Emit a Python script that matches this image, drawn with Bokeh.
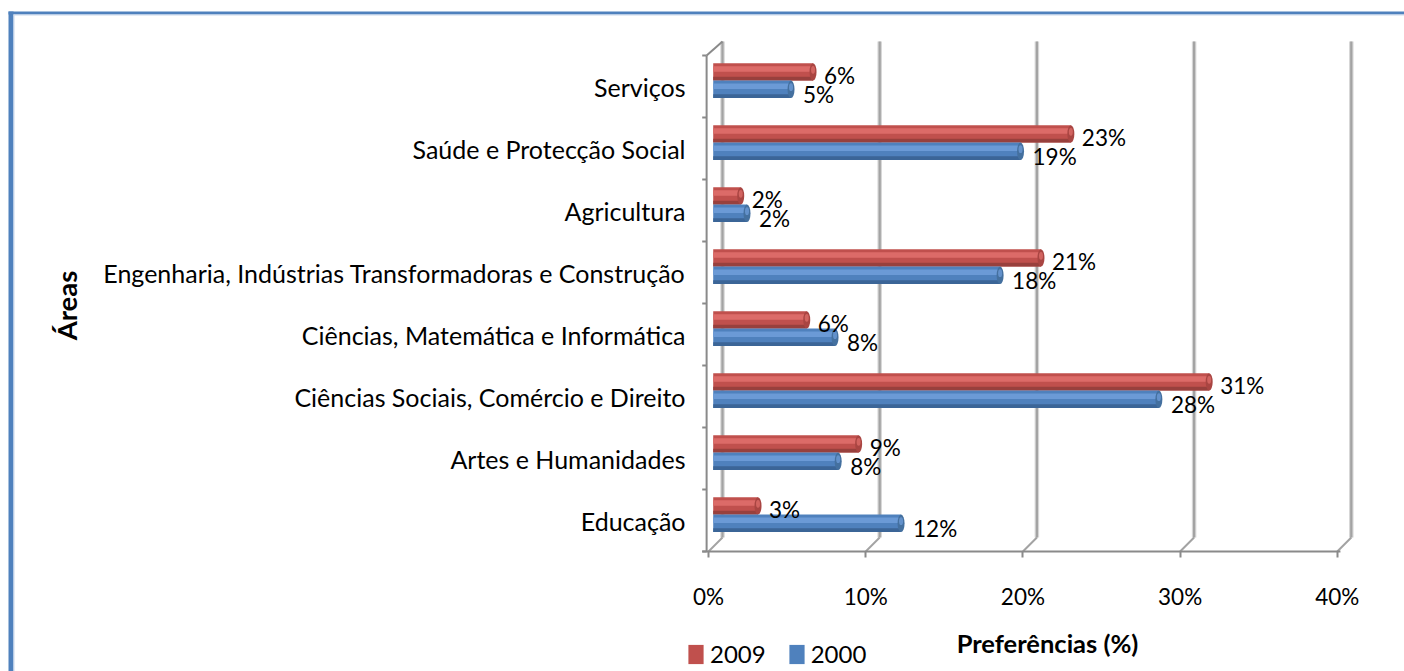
import math
from bokeh.plotting import figure
from bokeh.models import (Range1d, FixedTicker, Label, Legend, LegendItem,
                          BoxAnnotation, ColumnDataSource, LinearAxis)
from bokeh.core.properties import value
from bokeh.embed import file_html
from bokeh.resources import INLINE

# ---------------- data ----------------
categories = ["Educação", "Artes e Humanidades", "Ciências Sociais, Comércio e Direito",
              "Ciências, Matemática e Informática",
              "Engenharia, Indústrias Transformadoras e Construção",
              "Agricultura", "Saúde e Protecção Social", "Serviços"]
values_2009 = [2.7, 9.1, 31.4, 5.8, 20.7, 1.6, 22.6, 6.2]
values_2000 = [11.8, 7.8, 28.2, 7.6, 18.1, 2.0, 19.4, 4.8]
series_names = ["2009", "2000"]
x_ticks = [0, 10, 20, 30, 40]
x_tick_labels = ["0%", "10%", "20%", "30%", "40%"]
x_title = "Preferências (%)"
y_title = "Áreas"

# ---------------- style ----------------
FONT = "Lato"
RED, RED_HI, RED_LO, RED_CAP = "#C0504D", "#DC6B68", "#98403D", "#A94542"
BLUE, BLUE_HI, BLUE_LO, BLUE_CAP = "#4F81BD", "#6B9AD6", "#3B6597", "#44709F"
GRID = "#A3A3A3"
AXIS = "#8A8A8A"
DX, DY = 0.89, 0.226          # 3D depth offset (data units)
BAR_H = 0.28
RED_OFF, BLUE_OFF = 0.235, -0.045
BAR_START, BAR_END_OFF = 0.3, 0.45

W, H = 1404, 671
PX_X, PX_Y = 15.72, 62.0      # pixels per data unit
X0_PX, Y0_PX = 708, 551       # page position of (0, -0.5)
x_range = Range1d(-X0_PX / PX_X, (W - X0_PX) / PX_X)
y_range = Range1d(-0.5 - (H - Y0_PX) / PX_Y, -0.5 + Y0_PX / PX_Y)

p = figure(width=W, height=H, x_range=x_range, y_range=y_range,
           output_backend="svg", toolbar_location=None,
           x_axis_type=None, y_axis_type=None,
           min_border=0, min_border_left=0, min_border_right=0,
           min_border_top=0, min_border_bottom=0)
p.grid.visible = False
p.outline_line_color = None
p.background_fill_color = "white"
p.border_fill_color = "white"

n = len(categories)
idx = list(range(n))
y_lo, y_hi = -0.5, n - 0.5

# x axis (fixed at front floor edge)
xaxis = LinearAxis(fixed_location=y_lo, ticker=FixedTicker(ticks=x_ticks))
xaxis.major_label_overrides = {t: l for t, l in zip(x_ticks, x_tick_labels)}
xaxis.axis_line_color = None
xaxis.major_tick_out = 6
xaxis.major_tick_in = 0
xaxis.major_tick_line_color = AXIS
xaxis.major_tick_line_width = 2
xaxis.minor_tick_line_color = None
xaxis.major_label_standoff = 25
xaxis.major_label_text_font = FONT
xaxis.major_label_text_font_size = "22.5px"
xaxis.major_label_text_color = "black"
p.add_layout(xaxis, "below")

# y axis (category names)
yaxis = LinearAxis(fixed_location=-8 / PX_X, ticker=FixedTicker(ticks=idx))
yaxis.major_label_overrides = {i: c for i, c in zip(idx, categories)}
yaxis.axis_line_color = None
yaxis.major_tick_line_color = None
yaxis.minor_tick_line_color = None
yaxis.major_label_standoff = 9
yaxis.major_label_text_font = FONT
yaxis.major_label_text_font_size = "25px"
yaxis.major_label_text_color = "black"
p.add_layout(yaxis, "left")

# ---------------- 3D frame ----------------
p.segment(x0=[t + DX for t in x_ticks], y0=[y_lo + DY] * len(x_ticks),
          x1=[t + DX for t in x_ticks], y1=[y_hi + DY] * len(x_ticks),
          line_color="#D6D6D6", line_width=4.5)
p.segment(x0=[t + DX for t in x_ticks], y0=[y_lo + DY] * len(x_ticks),
          x1=[t + DX for t in x_ticks], y1=[y_hi + DY] * len(x_ticks),
          line_color=GRID, line_width=2.2)
p.segment(x0=x_ticks, y0=[y_lo] * len(x_ticks),
          x1=[t + DX for t in x_ticks], y1=[y_lo + DY] * len(x_ticks),
          line_color=GRID, line_width=2)
p.segment(x0=[-0.12, -0.12], y0=[y_lo, y_hi], x1=[-0.12, DX], y1=[y_hi, y_hi + DY],
          line_color=AXIS, line_width=2)
bounds = [i - 0.5 for i in range(n + 1)]
p.segment(x0=[-0.4] * len(bounds), y0=bounds, x1=[-0.12] * len(bounds), y1=bounds,
          line_color=AXIS, line_width=2)
p.segment(x0=[-0.4], y0=[y_lo], x1=[x_ticks[-1] + 0.2], y1=[y_lo],
          line_color=AXIS, line_width=2)

# ---------------- bars ----------------
def draw_series(vals, off, main, hi, lo, cap):
    ys = [i + off for i in idx]
    rights = [v + BAR_END_OFF for v in vals]
    src = ColumnDataSource(dict(y=ys, right=rights, left=[BAR_START] * n))
    r = p.hbar(y="y", left="left", right="right", height=BAR_H, source=src,
               fill_color=main, line_color=None)
    p.hbar(y=[y + BAR_H * 0.17 for y in ys], left=[BAR_START] * n, right=rights,
           height=BAR_H * 0.32, fill_color=hi, line_color=None)
    p.hbar(y=[y - BAR_H * 0.39 for y in ys], left=[BAR_START] * n, right=rights,
           height=BAR_H * 0.22, fill_color=lo, line_color=None)
    p.ellipse(x=rights, y=ys, width=7, height=BAR_H, width_units="screen",
              fill_color=cap, line_color=None)
    p.ellipse(x=rights, y=[y + BAR_H * 0.12 for y in ys], width=4, height=BAR_H * 0.45,
              width_units="screen", fill_color=hi, line_color=None, fill_alpha=0.8)
    return r, ys, rights

r_red, ys_red, rt_red = draw_series(values_2009, RED_OFF, RED, RED_HI, RED_LO, RED_CAP)
r_blue, ys_blue, rt_blue = draw_series(values_2000, BLUE_OFF, BLUE, BLUE_HI, BLUE_LO, BLUE_CAP)

p.text(x=rt_red, y=ys_red, text=[f"{round(v)}%" for v in values_2009],
       x_offset=11, y_offset=4, text_baseline="middle", text_align="left",
       text_font=value(FONT), text_font_size="22.5px", text_color="black")
p.text(x=rt_blue, y=ys_blue, text=[f"{round(v)}%" for v in values_2000],
       x_offset=12, y_offset=5, text_baseline="middle", text_align="left",
       text_font=value(FONT), text_font_size="22.5px", text_color="black")

# ---------------- titles ----------------
p.add_layout(Label(x=(1047 - X0_PX) / PX_X, y=-0.5 - (642 - Y0_PX) / PX_Y, text=x_title,
                   text_align="center", text_baseline="middle", text_font=FONT,
                   text_font_size="25.5px", text_font_style="bold", text_color="black"))
p.add_layout(Label(x=(66 - X0_PX) / PX_X, y=-0.5 + (Y0_PX - 305) / PX_Y, text=y_title,
                   angle=math.pi / 2, text_align="center", text_baseline="middle",
                   text_font=FONT, text_font_size="27.5px", text_font_style="bold",
                   text_color="black"))

# ---------------- legend ----------------
legend = Legend(items=[LegendItem(label=series_names[0], renderers=[r_red]),
                       LegendItem(label=series_names[1], renderers=[r_blue])],
                orientation="horizontal", location=(686, 3),
                glyph_width=19, glyph_height=24, label_standoff=5, spacing=21,
                padding=0, margin=0, border_line_color=None,
                background_fill_alpha=0, label_text_font=FONT,
                label_text_font_size="24px", label_text_color="black")
p.add_layout(legend, "center")

# ---------------- outer border ----------------
def box(l, r, t, b, color):
    p.add_layout(BoxAnnotation(left=l, right=r, top=t, bottom=b, left_units="canvas",
                               right_units="canvas", top_units="canvas",
                               bottom_units="canvas", fill_color=color, fill_alpha=1,
                               line_color=None, level="overlay"))

box(8, W, 11, 14, "#4F81BD")
box(8, 13, 11, H, "#4F81BD")
box(13, W, 14, 15, "#C9D8EC")
box(13, 14, 14, H, "#C9D8EC")

open("out.html", "w").write(file_html(p, INLINE))
